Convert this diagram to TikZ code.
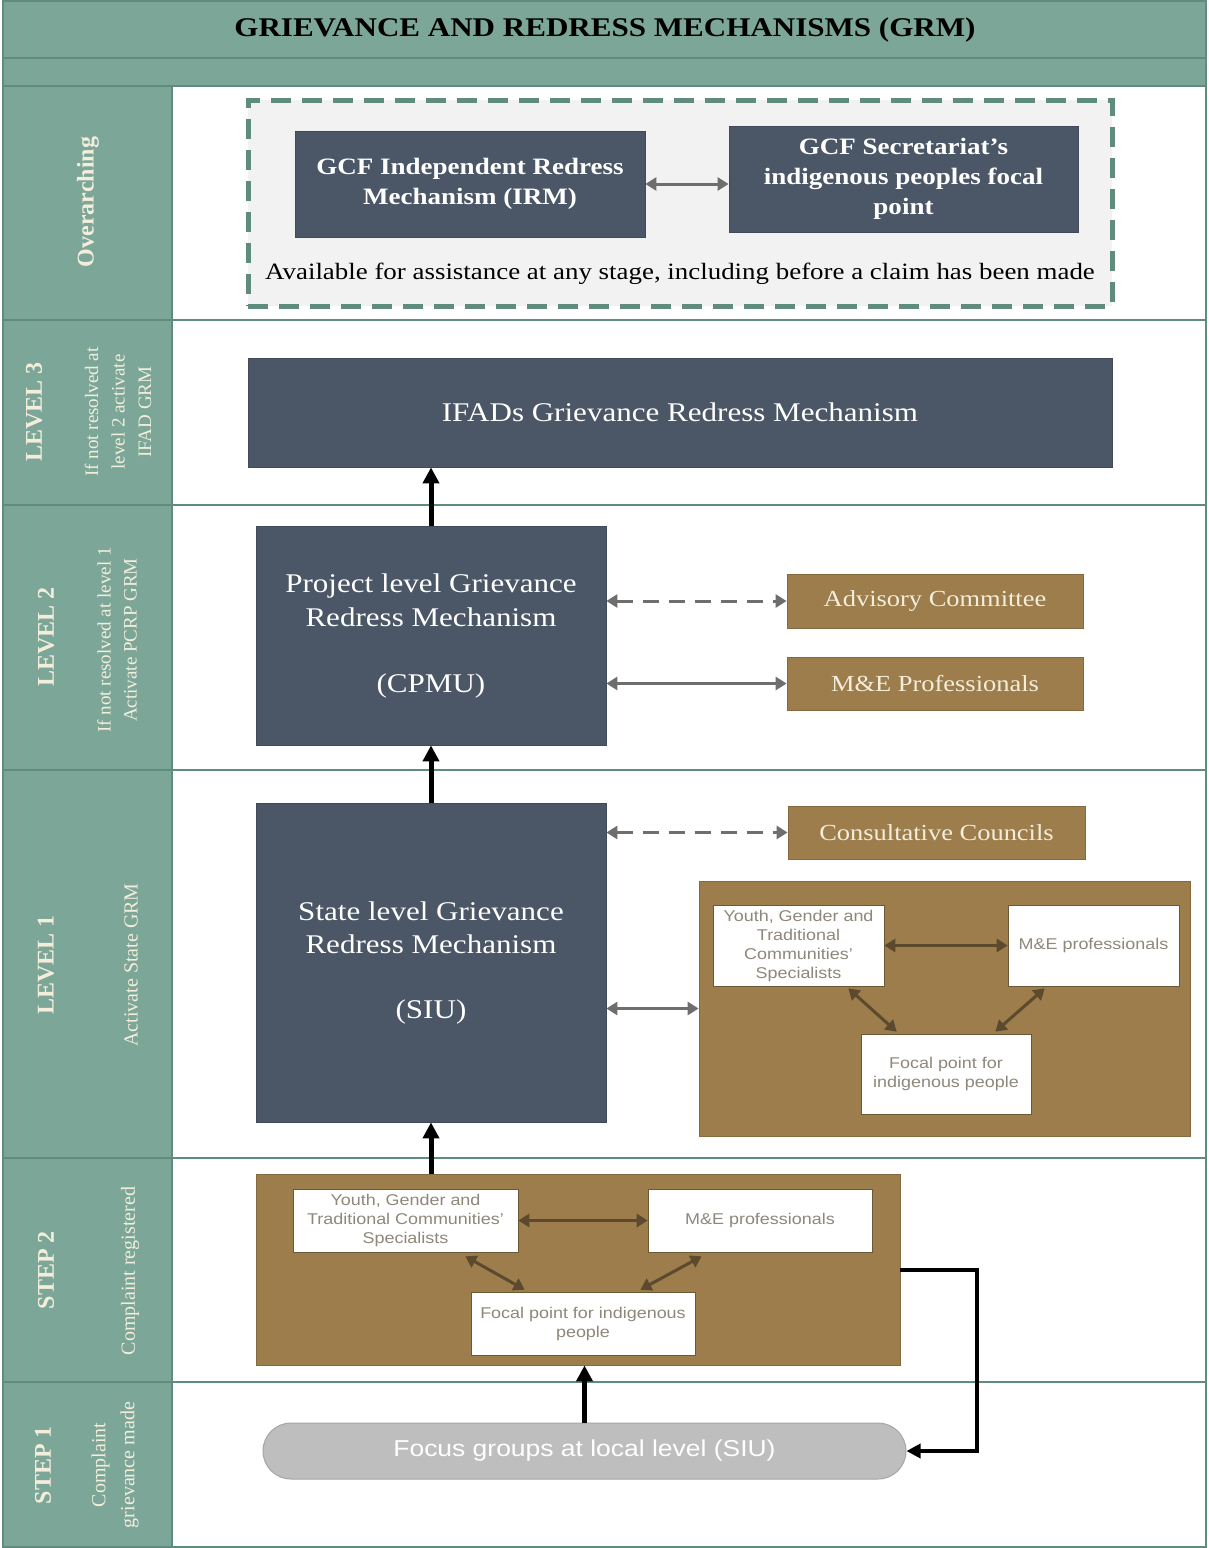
\documentclass[tikz,border=0pt]{standalone}
\usepackage{fontspec}
\setmainfont[FakeStretch=1.15]{Liberation Serif}
\setsansfont[FakeStretch=1.15]{Liberation Sans}
\newfontfamily\rotserif{Liberation Serif}
\usetikzlibrary{arrows.meta,calc}
\definecolor{teal}{HTML}{7BA698}
\definecolor{tealdk}{HTML}{5F8C7E}
\definecolor{slate}{HTML}{4B5767}
\definecolor{tan}{HTML}{9C7D4B}
\definecolor{browndk}{HTML}{5C4A2E}
\definecolor{greyar}{HTML}{6E6E6E}
\definecolor{cream}{HTML}{F3EEDC}
\definecolor{boxtxt}{HTML}{8F877A}
\definecolor{pill}{HTML}{BEBEBE}
\newcommand{\fs}[1]{\fontsize{#1}{1.2\dimexpr#1pt\relax}\selectfont}
\tikzset{
  darkbox/.style={fill=slate, draw=slate!85!black, line width=0.8pt, text=white, align=center, inner sep=0pt},
  tanbox/.style={fill=tan, draw=tan!85!black, line width=0.8pt, text=cream, align=center, inner sep=0pt},
  whitebox/.style={fill=white, draw=tan!70!black, line width=0.6pt, text=boxtxt, align=center, inner sep=0pt, font=\sffamily\fontsize{15.6}{19}\selectfont},
  blk/.style={line width=5pt, black, -{Triangle[length=16pt,width=16pt]}},
  gar/.style={line width=3pt, greyar, {Triangle[length=11pt,width=13pt]}-{Triangle[length=11pt,width=13pt]}},
  bar/.style={line width=3pt, browndk, {Triangle[length=11pt,width=13pt]}-{Triangle[length=11pt,width=13pt]}},
  sidelbl/.style={rotate=90, text=cream, align=center},
  sidehead/.style={sidelbl, font=\rotserif\bfseries\fontsize{24}{28}\selectfont},
  sep/.style={tealdk, line width=2pt}
}
\begin{document}
\begin{tikzpicture}[x=1pt,y=-1pt]
\useasboundingbox (0,0) rectangle (1208,1548);
% frame
\fill[white] (0,0) rectangle (1208,1548);
\fill[teal] (3,0) rectangle (1206,86);
\fill[teal] (3,86) rectangle (172,1548);
\draw[tealdk, line width=2pt] (3,1) rectangle (1206,1547);
\draw[tealdk, line width=2pt] (3,58) -- (1206,58);
\draw[tealdk, line width=1.5pt] (3,86) -- (1206,86);
\foreach \yy in {320,505,770,1158,1382}
  \draw[sep] (3,\yy) -- (1206,\yy);
\draw[tealdk, line width=1.5pt] (172,86) -- (172,1548);
% title
\node[font=\bfseries\fs{27}] (title) at (605,30) {GRIEVANCE AND REDRESS MECHANISMS (GRM)};
% side labels
\node[sidehead] (lblO) at (88,202) {Overarching};
\node[sidehead] (lblL3a) at (34,412) {LEVEL 3};
\node[sidelbl, font=\rotserif\fontsize{19}{26.5}\selectfont] (lblL3b) at (118,412) {If not resolved at\\level 2 activate\\IFAD GRM};
\node[sidehead] (lblL2a) at (46,637) {LEVEL 2};
\node[sidelbl, font=\rotserif\fontsize{19}{26}\selectfont] (lblL2b) at (117,640) {If not resolved at level 1\\Activate PCRP GRM};
\node[sidehead] (lblL1a) at (46,965) {LEVEL 1};
\node[sidelbl, font=\rotserif\fontsize{20}{26}\selectfont] (lblL1b) at (131,965) {Activate State GRM};
\node[sidehead] (lblS2a) at (46,1270) {STEP 2};
\node[sidelbl, font=\rotserif\fontsize{20}{26}\selectfont] (lblS2b) at (130,1271) {Complaint registered};
\node[sidehead] (lblS1a) at (43,1465) {STEP 1};
\node[sidelbl, font=\rotserif\fontsize{20}{29}\selectfont] (lblS1b) at (115,1465) {Complaint\\grievance made};
% overarching
\node[fill=black!5, draw=tealdk, line width=5pt, dash pattern=on 20pt off 11pt, minimum width=864pt, minimum height=206pt, inner sep=0pt] (over) at (680,203) {};
\node[darkbox, minimum width=350pt, minimum height=106pt, font=\bfseries\fontsize{23.5}{30}\selectfont] (irm) at (470,184) {GCF Independent Redress\\Mechanism (IRM)};
\node[darkbox, minimum width=349pt, minimum height=106pt, font=\bfseries\fontsize{23.5}{30}\selectfont] (sec) at (903.5,179) {GCF Secretariat’s\\indigenous peoples focal\\point};
\node[font=\fs{23.4}] (avail) at (680,274) {Available for assistance at any stage, including before a claim has been made};
\draw[gar] (irm.east) -- (sec.west |- irm.east);
% level 3
\node[darkbox, minimum width=864pt, minimum height=109pt, font=\fs{27}] (ifad) at (680,412.5) {IFADs Grievance Redress Mechanism};
% level 2
\node[darkbox, minimum width=350pt, minimum height=219pt, font=\fontsize{27}{34}\selectfont] (cpmu) at (431,635.5) {Project level Grievance\\Redress Mechanism\\[32pt](CPMU)};
\node[tanbox, minimum width=296pt, minimum height=54pt, font=\fs{23}] (adv) at (935,601) {Advisory Committee};
\node[tanbox, minimum width=296pt, minimum height=53pt, font=\fs{23}] (me) at (935,683.5) {M\&E Professionals};
\draw[gar, dash pattern=on 16pt off 10pt] (cpmu.east |- adv.west) -- (adv.west);
\draw[gar] (cpmu.east |- me.west) -- (me.west);
% level 1
\node[darkbox, minimum width=350pt, minimum height=319pt, font=\fontsize{27}{33}\selectfont] (siu) at (431,962.5) {State level Grievance\\Redress Mechanism\\[32pt](SIU)};
\node[tanbox, minimum width=297pt, minimum height=53pt, font=\fs{23}] (cc) at (936.5,832.5) {Consultative Councils};
\node[tanbox, minimum width=491pt, minimum height=255pt] (l1) at (944.5,1008.5) {};
\node[whitebox, minimum width=171pt, minimum height=81pt] (y1) at (798.5,945.5) {Youth, Gender and\\Traditional\\Communities'\\Specialists};
\node[whitebox, minimum width=171pt, minimum height=81pt] (m1) at (1093.5,945.5) {M\&E professionals};
\node[whitebox, minimum width=170pt, minimum height=80pt] (f1) at (946,1074) {Focal point for\\indigenous people};
\draw[gar, dash pattern=on 16pt off 10pt] (siu.east |- cc.west) -- (cc.west);
\draw[gar] (siu.east |- l1.west) -- (l1.west);
\draw[bar] (y1.east) -- (m1.west);
\draw[bar] ($(y1.south east)+(-36,2)$) -- ($(f1.north west)+(36,-2)$);
\draw[bar] ($(m1.south west)+(37,2)$) -- ($(f1.north east)+(-36,-2)$);
% step 2
\node[tanbox, minimum width=644pt, minimum height=191pt] (s2) at (578,1269.5) {};
\node[whitebox, minimum width=225pt, minimum height=63pt] (y2) at (405.5,1220.5) {Youth, Gender and\\Traditional Communities'\\Specialists};
\node[whitebox, minimum width=224pt, minimum height=63pt] (m2) at (760,1220.5) {M\&E professionals};
\node[whitebox, minimum width=224pt, minimum height=63pt] (f2) at (583,1323.5) {Focal point for indigenous\\people};
\draw[bar] (y2.east) -- (m2.west);
\draw[bar] ($(y2.south east)+(-53,4)$) -- ($(f2.north west)+(54,-2)$);
\draw[bar] ($(m2.south west)+(54,4)$) -- ($(f2.north east)+(-55,-2)$);
% step 1
\node[fill=pill, draw=black!35, line width=1pt, rounded corners=28pt, minimum width=643pt, minimum height=56pt, text=white, font=\sffamily\fs{23}] (focus) at (584.5,1451) {Focus groups at local level (SIU)};
% main flow arrows
\draw[blk] (cpmu.north) -- (ifad.south -| cpmu.north);
\draw[blk] (siu.north) -- (cpmu.south -| siu.north);
\draw[blk] (s2.north -| siu.south) -- (siu.south);
\draw[blk] (focus.north) -- (s2.south -| focus.north);
\draw[line width=3.5pt, black, -{Triangle[length=14pt,width=14pt]}] (s2.east |- 0,1270) -- (977,1270) |- (focus.east);
\end{tikzpicture}
\end{document}
